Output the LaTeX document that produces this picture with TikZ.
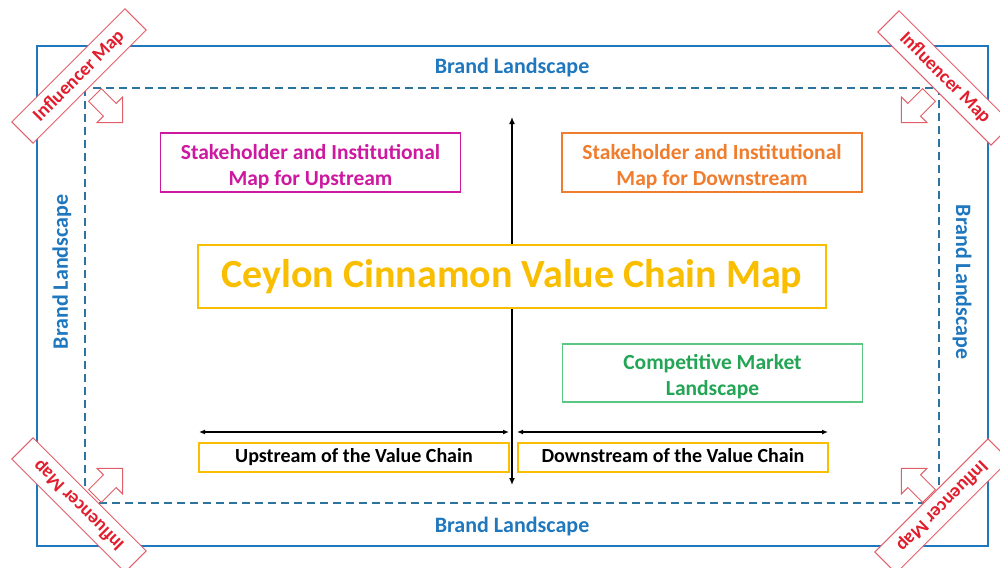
\documentclass[tikz,border=0pt]{standalone}
\usepackage{fontspec}
\setmainfont{Carlito}
\usetikzlibrary{arrows.meta}
\definecolor{brandblue}{RGB}{31,119,190}
\definecolor{dashblue}{RGB}{45,115,160}
\definecolor{inflred}{RGB}{225,30,45}
\definecolor{inflline}{RGB}{225,95,105}
\definecolor{pinkc}{RGB}{205,25,160}
\definecolor{orangec}{RGB}{240,125,45}
\definecolor{greenc}{RGB}{35,165,85}
\definecolor{greenl}{RGB}{90,200,130}
\definecolor{goldc}{RGB}{250,190,0}
\begin{document}
\begin{tikzpicture}[x=1pt,y=-1pt,
  brand/.style={text=brandblue,font=\bfseries\fontsize{22}{24}\selectfont,inner sep=0pt},
  infl/.style={draw=inflline,line width=1pt,fill=white,text=inflred,font=\bfseries\fontsize{19}{20}\selectfont,minimum width=160pt,minimum height=30pt,inner sep=0pt},
  mapbox/.style={line width=1.5pt,fill=white,align=center,font=\bfseries\fontsize{21.5}{26}\selectfont,inner sep=0pt,minimum width=300pt,minimum height=59pt},
  vcbox/.style={draw=goldc,line width=1.5pt,fill=white,font=\bfseries\fontsize{20}{22}\selectfont,minimum width=310pt,minimum height=29pt,inner sep=0pt,text height=13pt,text depth=3pt},
  axisline/.style={line width=1.8pt,{Latex[length=7pt,width=6pt]}-{Latex[length=7pt,width=6pt]}},
  hline/.style={line width=1.5pt,{Latex[length=6pt,width=5pt]}-{Latex[length=6pt,width=5pt]}},
  blockarrow/.style={draw=inflline,line width=1pt,fill=white,line join=miter},
  barrow/.pic={\draw[blockarrow] (0,-9) -- (21,-9) -- (21,-18) -- (39,0) -- (21,18) -- (21,9) -- (0,9) -- cycle;}
]
\useasboundingbox (0,0) rectangle (1000,567);
% frames
\draw[brandblue,line width=2.5pt] (37,46) rectangle (988,546);
\draw[dashblue,line width=2pt,dash pattern=on 8pt off 5pt] (85,88) rectangle (939,503);
% brand landscape labels
\node[brand] (bT) at (512,68) {Brand Landscape};
\node[brand] (bB) at (512,527) {Brand Landscape};
\node[brand,rotate=90] (bL) at (62,272) {Brand Landscape};
\node[brand,rotate=-90] (bR) at (962,282) {Brand Landscape};
% block arrows
\pic[rotate=-45] at (95,95) {barrow};
\pic[rotate=-135] at (929,95) {barrow};
\pic[rotate=45] at (95,496) {barrow};
\pic[rotate=135] at (929,496) {barrow};
% influencer banners
\node[infl,rotate=45] (iTL) at (79,76) {Influencer Map};
\node[infl,rotate=-45] (iTR) at (945,78) {Influencer Map};
\node[infl,rotate=135] (iBL) at (79,505) {Influencer Map};
\node[infl,rotate=-135] (iBR) at (942,506) {Influencer Map};
% axes
\coordinate (axT) at (512,117);
\coordinate (axB) at (512,485);
\draw[axisline] (axT) -- (axB);
\coordinate (hL1) at (199,432);
\coordinate (hL2) at (509,432);
\coordinate (hR1) at (517,432);
\coordinate (hR2) at (828,432);
\draw[hline] (hL1) -- (hL2);
\draw[hline] (hR1) -- (hR2);
% boxes
\node[mapbox,draw=pinkc,text=pinkc] (up) at (310.5,162.5) {\rule{0pt}{23pt}Stakeholder and Institutional\\Map for Upstream};
\node[mapbox,draw=orangec,text=orangec] (down) at (712,162.5) {\rule{0pt}{23pt}Stakeholder and Institutional\\Map for Downstream};
\node[mapbox,draw=greenl,text=greenc,minimum height=58pt] (comp) at (712.5,373) {\rule{0pt}{23pt}Competitive Market\\Landscape};
\node[draw=goldc,line width=2.5pt,fill=white,text=goldc,font=\bfseries\fontsize{40}{44}\selectfont,minimum width=628pt,minimum height=63pt,inner sep=0pt,text height=27pt,text depth=5pt] (title) at (512,276.5) {Ceylon Cinnamon Value Chain Map};
\node[vcbox] (uvc) at (354,457.5) {Upstream of the Value Chain};
\node[vcbox] (dvc) at (673,457.5) {Downstream of the Value Chain};
\end{tikzpicture}
\end{document}
